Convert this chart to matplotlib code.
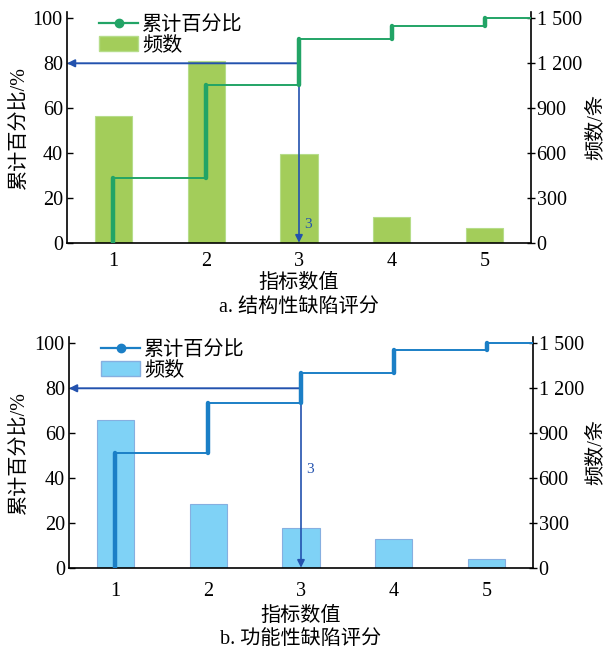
import numpy as np
import matplotlib
matplotlib.use("Agg")
import matplotlib.pyplot as plt
from matplotlib.lines import Line2D
from matplotlib.patches import Patch

plt.rcParams['font.family'] = ['Liberation Serif', 'Noto Sans CJK SC']
plt.rcParams['axes.unicode_minus'] = False

# Index values and defect frequencies for each panel
categories = [1, 2, 3, 4, 5]
freq_structural = [850, 1217, 596, 174, 96]
freq_functional = [991, 428, 264, 193, 58]

pct_ticks = [0, 20, 40, 60, 80, 100]
freq_ticks = [0, 300, 600, 900, 1200, 1500]
freq_tick_labels = ["0", "300", "600", "900", "1 200", "1 500"]

threshold_pct = 80
threshold_index = 3

titles = ["a. 结构性缺陷评分", "b. 功能性缺陷评分"]
bar_colors = ["#a3cd5a", "#7fd2f6"]
bar_edges = ["#b6dd8a", "#86afe0"]
line_colors = ["#22a466", "#1b7fc6"]
arrow_color = "#2352ae"

FS = 14.5
W, H = 606, 652
fig = plt.figure(figsize=(W / 100, H / 100), dpi=100)

panel_boxes = [  # left, bottom(px from top), width, height in px
    (67, 242.7, 464, 231),
    (69, 567.7, 464, 231),
]
data_sets = [freq_structural, freq_functional]
label_y_offsets = [8, 43.6]
tick_pads = [7, 10]
xlabel_offsets = [41, 49]   # px below the axis
title_offsets = [65, 72]

for k, (box, freq) in enumerate(zip(panel_boxes, data_sets)):
    l, b, w, h = box
    ax = fig.add_axes([l / W, 1 - b / H, w / W, h / H])
    ax2 = ax.twinx()
    ax.set_zorder(ax2.get_zorder() + 1)
    ax.patch.set_visible(False)

    x = np.array(categories, dtype=float)
    f = np.array(freq, dtype=float)
    cum = np.cumsum(f) / f.sum() * 100

    # frequency bars on the right-hand axis
    ax2.bar(x, f, width=0.4, color=bar_colors[k], edgecolor=bar_edges[k],
            linewidth=0.8, zorder=1)
    ax2.set_ylim(0, 103 * 15)
    ax2.set_yticks(freq_ticks)
    ax2.set_yticklabels(freq_tick_labels)

    ax.set_xlim(0.5, 5.5)
    ax.set_ylim(0, 103)
    ax.set_yticks(pct_ticks)
    ax.set_xticks(categories)

    # cumulative percentage as a step curve: thick risers, thin treads
    prev = np.concatenate([[0.0], cum[:-1]])
    ends = np.concatenate([x[1:], [5.5]])
    for xi, y0, y1, xe in zip(x, prev, cum, ends):
        ax.plot([xi, xi], [y0, y1], color=line_colors[k], lw=3.2,
                solid_capstyle='round', zorder=5)
        ax.plot([xi, xe], [y1, y1], color=line_colors[k], lw=1.4, zorder=5)

    # 80% threshold arrows
    ax.annotate('', xy=(0.5, threshold_pct), xytext=(threshold_index, threshold_pct),
                arrowprops=dict(arrowstyle='-|>', color=arrow_color, lw=1.4,
                                mutation_scale=11, shrinkA=0, shrinkB=0), zorder=4)
    ax.annotate('', xy=(threshold_index, 0), xytext=(threshold_index, threshold_pct),
                arrowprops=dict(arrowstyle='-|>', color=arrow_color, lw=1.2,
                                mutation_scale=11, shrinkA=0, shrinkB=0), zorder=4)
    ax.text(threshold_index + 0.06, label_y_offsets[k], str(threshold_index),
            color=arrow_color, fontsize=11, ha='left', va='center')

    for a in (ax, ax2):
        a.spines['top'].set_visible(False)
        for s in a.spines.values():
            s.set_linewidth(1.2)
    ax.spines['right'].set_visible(False)
    ax2.spines['left'].set_visible(False)
    ax2.spines['bottom'].set_visible(False)

    ax.tick_params(axis='y', direction='in', length=4, width=1, labelsize=FS, pad=3)
    ax.tick_params(axis='x', length=0, labelsize=FS, pad=tick_pads[k])
    ax2.tick_params(axis='y', direction='inout', length=6, width=1, labelsize=FS, pad=1)

    ax.set_ylabel("累计百分比/%", fontsize=FS)
    ax.yaxis.set_label_coords((29 - l) / w, 0.5)
    ax2.set_ylabel("频数/条", fontsize=FS)
    ax2.yaxis.set_label_coords((586 - l) / w, 0.5)

    ax.set_xlabel("指标数值", fontsize=FS)
    ax.xaxis.label.set_va('center')
    ax.xaxis.set_label_coords(0.5, -xlabel_offsets[k] / h)
    ax.text(0.5, -title_offsets[k] / h, titles[k], transform=ax.transAxes,
            ha='center', va='center', fontsize=FS)

    handles = [
        Line2D([], [], color=line_colors[k], lw=1.6, marker='o', markersize=6),
        Patch(facecolor=bar_colors[k], edgecolor=bar_edges[k]),
    ]
    ax.legend(handles, ["累计百分比", "频数"], loc='upper left',
              bbox_to_anchor=(0.07, 0.98), frameon=False, fontsize=FS,
              handlelength=1.9, handletextpad=0.2, labelspacing=0.05,
              borderaxespad=0, borderpad=0)

fig.savefig("out.png", dpi=100)
